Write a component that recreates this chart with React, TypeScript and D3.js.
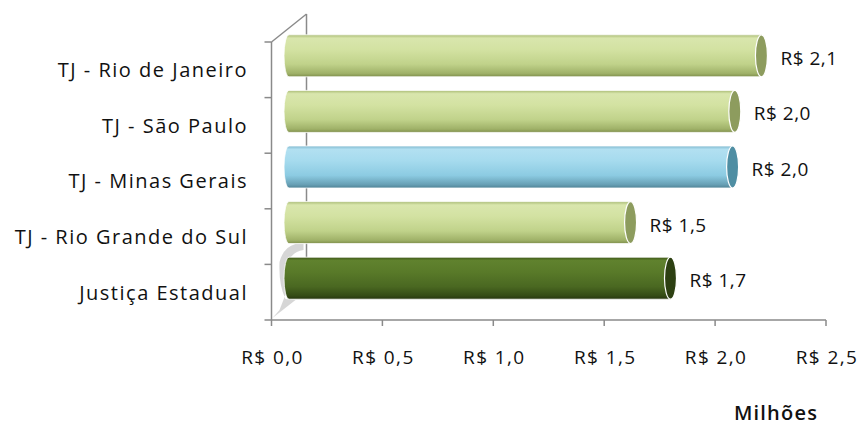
import React from "react";
import * as d3 from "d3";

const categories = ["TJ - Rio de Janeiro", "TJ - São Paulo", "TJ - Minas Gerais", "TJ - Rio Grande do Sul", "Justiça Estadual"];
const values = [2.13, 2.01, 2.0, 1.54, 1.72];
const valueLabels = ["R$ 2,1", "R$ 2,0", "R$ 2,0", "R$ 1,5", "R$ 1,7"];
const barKinds = ["green", "green", "blue", "green", "dark"];
const tickValues = [0, 0.5, 1.0, 1.5, 2.0, 2.5];
const tickLabels = ["R$ 0,0", "R$ 0,5", "R$ 1,0", "R$ 1,5", "R$ 2,0", "R$ 2,5"];
const axisTitle = "Milhões";

const palettes: Record<string, { stops: [number, string][]; cap: string }> = {
  green: {
    stops: [[0, "#a9bb74"], [0.08, "#d9e6ad"], [0.35, "#d3e2a2"], [0.7, "#c0d28a"], [0.92, "#9fb168"], [1, "#7f8f4c"]],
    cap: "#8d9c5e",
  },
  blue: {
    stops: [[0, "#7fb9cf"], [0.08, "#b2e0f1"], [0.35, "#a6dbee"], [0.7, "#8ccbe2"], [0.92, "#679fb4"], [1, "#4f8295"]],
    cap: "#4f8ea3",
  },
  dark: {
    stops: [[0, "#3d5518"], [0.08, "#60822e"], [0.35, "#597a29"], [0.7, "#4a6821"], [0.92, "#344b15"], [1, "#25350d"]],
    cap: "#2d4012",
  },
};

const W = 860;
const H = 429;
const FONT = "'Open Sans', Lato, sans-serif";

export default function App() {
  const x = d3.scaleLinear().domain([0, 2.5]).range([271.5, 826]);
  const y = d3.scaleBand<string>().domain(categories).range([42, 320]).padding(0);
  const dx = 17.5;
  const dy = -14;
  const depthX = 35;
  const depthY = -28;
  const barH = 42;
  const rx = 6;
  const axisColor = "#8a8a8a";
  const x0p = x(0);

  return (
    <svg width={W} height={H} style={{ position: "absolute", left: 0, top: 0, background: "#fff" }}>
      <defs>
        {Object.entries(palettes).map(([k, p]) => (
          <linearGradient key={k} id={`grad-${k}`} x1="0" y1="0" x2="0" y2="1">
            {p.stops.map(([o, c], i) => (
              <stop key={i} offset={o} stopColor={c} />
            ))}
          </linearGradient>
        ))}
      </defs>

      {/* back wall line and top diagonal */}
      <line x1={x0p + depthX} y1={y.range()[0] + depthY} x2={x0p + depthX} y2={y.range()[1] + depthY} stroke={axisColor} strokeWidth={1.5} />
      <line x1={x0p} y1={y.range()[0]} x2={x0p + depthX} y2={y.range()[0] + depthY} stroke={axisColor} strokeWidth={1.5} />

      {/* gray shadow near bottom-left */}
      <path
        d={`M ${x0p + 1} ${318} L ${x0p + 24} ${300} L ${x0p + 14} ${299} Q ${x0p + 7} ${285} ${x0p + 8} ${262} Q ${x0p + 12} ${247} ${x0p + 24} ${244} L ${x0p + 32} ${244} L ${x0p + 32} ${250} Q ${x0p + 18} ${252} ${x0p + 15} ${268} L ${x0p + 15} ${292} L ${x0p + 8} ${310} Z`}
        fill="#cfcfcf"
        opacity={0.85}
      />

      {/* bars */}
      {categories.map((c, i) => {
        const cy = (y(c) as number) + y.bandwidth() / 2 + dy;
        const x0 = x0p + dx;
        const x1 = x(values[i]) + dx;
        const top = cy - barH / 2;
        const bot = cy + barH / 2;
        const kind = barKinds[i];
        const body = `M ${x0} ${top} L ${x1} ${top} L ${x1} ${bot} L ${x0} ${bot} A ${rx - 1} ${barH / 2} 0 0 1 ${x0} ${top} Z`;
        return (
          <g key={c}>
            <path d={body} fill={`url(#grad-${kind})`} stroke="#ffffff" strokeWidth={0.8} />
            <ellipse cx={x1} cy={cy} rx={rx} ry={barH / 2} fill={palettes[kind].cap} stroke="#ffffff" strokeWidth={1.2} />
            <text x={x1 + 19} y={cy + 4} dominantBaseline="middle" fontFamily={FONT} fontSize={19} letterSpacing={0.5} fill="#111">
              {valueLabels[i]}
            </text>
          </g>
        );
      })}

      {/* left axis */}
      <line x1={x0p} y1={y.range()[0]} x2={x0p} y2={y.range()[1]} stroke={axisColor} strokeWidth={1.5} />
      {[...categories.map((c) => y(c) as number), y.range()[1]].map((ty, i) => (
        <line key={i} x1={x0p - 7} y1={ty} x2={x0p} y2={ty} stroke={axisColor} strokeWidth={1.5} />
      ))}
      {categories.map((c) => (
        <text
          key={c}
          x={248}
          y={(y(c) as number) + y.bandwidth() / 2 + 2}
          textAnchor="end"
          dominantBaseline="middle"
          fontFamily={FONT}
          fontSize={20}
          letterSpacing={1.5}
          fill="#111"
        >
          {c}
        </text>
      ))}

      {/* bottom axis */}
      <line x1={x0p} y1={y.range()[1]} x2={x(2.5)} y2={y.range()[1]} stroke={axisColor} strokeWidth={1.5} />
      {tickValues.map((t, i) => (
        <g key={t}>
          <line x1={x(t)} y1={y.range()[1]} x2={x(t)} y2={y.range()[1] + 6} stroke={axisColor} strokeWidth={1.5} />
          <text x={x(t) + 1} y={359} textAnchor="middle" dominantBaseline="middle" fontFamily={FONT} fontSize={19} letterSpacing={1.4} fill="#111">
            {tickLabels[i]}
          </text>
        </g>
      ))}
      <text x={776} y={415} textAnchor="middle" dominantBaseline="middle" fontFamily={FONT} fontSize={20} fontWeight={600} letterSpacing={1.2} fill="#111">
        {axisTitle}
      </text>
    </svg>
  );
}
